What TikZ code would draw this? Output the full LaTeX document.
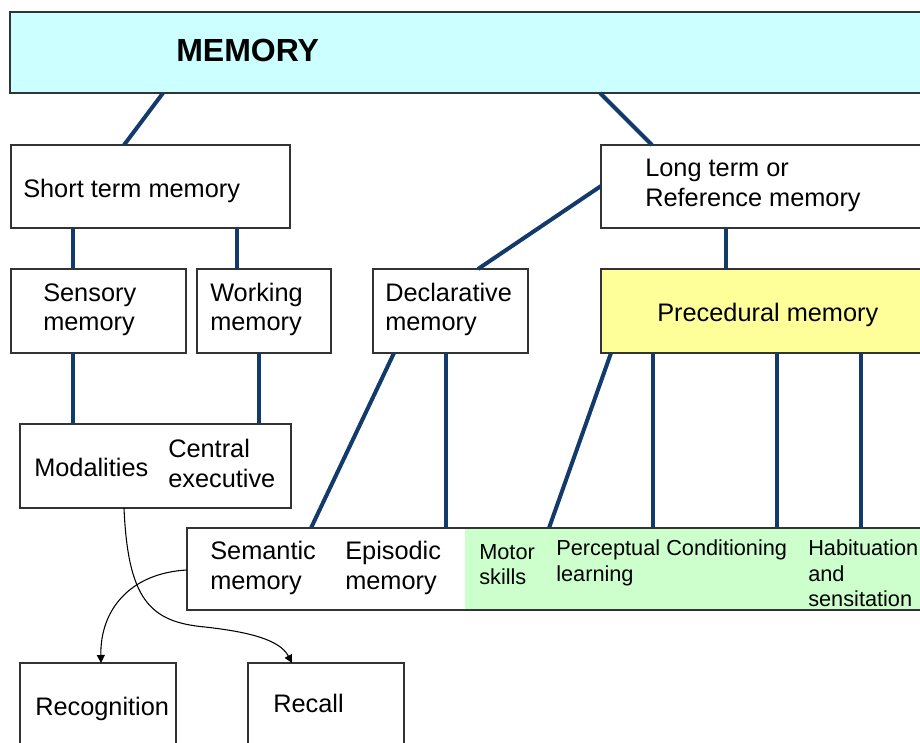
\documentclass[tikz,border=0pt]{standalone}
\usepackage{fontspec}
\setmainfont{Liberation Sans}
\usetikzlibrary{arrows.meta,calc}
\definecolor{navy}{HTML}{123A6A}
\definecolor{memfill}{HTML}{CCFFFF}
\definecolor{procfill}{HTML}{FFFF99}
\definecolor{greenfill}{HTML}{CCFFCC}
\begin{document}
\begin{tikzpicture}[x=0.75pt,y=-0.75pt,
  box/.style={draw=black!80, line width=1.1pt, inner sep=0pt, outer sep=0pt, anchor=north west, fill=white},
  sz/.style 2 args={minimum width=#1*0.75pt, minimum height=#2*0.75pt},
  link/.style={draw=navy, line width=3pt},
  lbl/.style={anchor=base west, inner sep=0pt, font=\fontsize{19}{22}\selectfont},
  glbl/.style={anchor=base west, inner sep=0pt, font=\fontsize{16.3}{19}\selectfont},
  flow/.style={draw=black, line width=0.8pt, -{Triangle[length=6pt,width=6pt]}}]
\clip (0,0) rectangle (920,742);
\fill[white] (0,0) rectangle (920,742);

% boxes
\node[box, sz={930}{81}, fill=memfill] (mem) at (10,12) {};
\node[box, sz={279}{83}] (stm) at (11,145) {};
\node[box, sz={330}{83}] (ltm) at (601,145) {};
\node[box, sz={175}{84}] (sens) at (11,269) {};
\node[box, sz={134}{84}] (work) at (197,269) {};
\node[box, sz={155}{84}] (decl) at (373,269) {};
\node[box, sz={330}{84}, fill=procfill] (proc) at (601,269) {};
\node[box, sz={271}{84}] (moda) at (20,424) {};
\node[box, sz={750}{82}, path picture={\fill[greenfill] ($(path picture bounding box.north west)+(278,0)$) rectangle (path picture bounding box.south east);}] (sem) at (187,528) {};
\node[box, sz={156}{100}] (recog) at (20,663) {};
\node[box, sz={156}{100}] (recall) at (248,663) {};

% texts
\node[anchor=base west, inner sep=0pt, font=\fontsize{24}{28}\selectfont\bfseries] (tmem) at (176,62) {MEMORY};
\node[lbl] (t1) at (23,197) {Short term memory};
\node[lbl] (t2a) at (645,176) {Long term or};
\node[lbl] (t2b) at (645,206) {Reference memory};
\node[lbl] (t3a) at (43,301) {Sensory};
\node[lbl] (t3b) at (43,330) {memory};
\node[lbl] (t4a) at (210,301) {Working};
\node[lbl] (t4b) at (210,330) {memory};
\node[lbl] (t5a) at (385,301) {Declarative};
\node[lbl] (t5b) at (385,330) {memory};
\node[lbl] (t6) at (657,321) {Precedural memory};
\node[lbl] (t7) at (34,476) {Modalities};
\node[lbl] (t8a) at (168,457) {Central};
\node[lbl] (t8b) at (168,487) {executive};
\node[lbl] (t9a) at (210,559) {Semantic};
\node[lbl] (t9b) at (210,589) {memory};
\node[lbl] (t10a) at (345,559) {Episodic};
\node[lbl] (t10b) at (345,589) {memory};
\node[glbl] (g1a) at (479,559) {Motor};
\node[glbl] (g1b) at (479,584) {skills};
\node[glbl] (g2a) at (556,555) {Perceptual};
\node[glbl] (g2b) at (556,581) {learning};
\node[glbl] (g3) at (666,555) {Conditioning};
\node[glbl] (g4a) at (808,555) {Habituation};
\node[glbl] (g4b) at (808,581) {and};
\node[glbl] (g4c) at (808,606) {sensitation};
\node[lbl] (t11) at (35,715) {Recognition};
\node[lbl] (t12) at (273,712) {Recall};

% connectors
\draw[link] ($(mem.south west)+(153,0)$) -- ($(stm.north west)+(113,0)$);
\draw[link] ($(mem.south west)+(590,0)$) -- ($(ltm.north west)+(51,0)$);
\draw[link] ($(stm.south west)+(62,0)$) -- ($(sens.north west)+(62,0)$);
\draw[link] ($(stm.south west)+(226,0)$) -- ($(work.north west)+(40,0)$);
\draw[link] ($(ltm.north west)+(0,41)$) -- ($(decl.north west)+(105,0)$);
\draw[link] ($(ltm.south west)+(125,0)$) -- ($(proc.north west)+(125,0)$);
\draw[link] ($(sens.south west)+(62,0)$) -- ($(moda.north west)+(53,0)$);
\draw[link] ($(work.south west)+(62,0)$) -- ($(moda.north west)+(239,0)$);
\draw[link] ($(decl.south west)+(21,0)$) -- ($(sem.north west)+(124,0)$);
\draw[link] ($(decl.south west)+(73,0)$) -- ($(sem.north west)+(259,0)$);
\draw[link] ($(proc.south west)+(10,0)$) -- ($(sem.north west)+(362,0)$);
\draw[link] ($(proc.south west)+(52,0)$) -- ($(sem.north west)+(466,0)$);
\draw[link] ($(proc.south west)+(176,0)$) -- ($(sem.north west)+(590,0)$);
\draw[link] ($(proc.south west)+(260,0)$) -- ($(sem.north west)+(674,0)$);

% flow arrows
\coordinate (bend) at (205,627);
\draw[flow] ($(moda.south west)+(104,0)$) .. controls (128,600) and (150,622) .. (bend) .. controls (250,632) and (280,640) .. ($(recall.north west)+(44,0)$);
\draw[flow] ($(sem.north west)+(0,42)$) .. controls (130,573) and (100,610) .. ($(recog.north west)+(81,0)$);
\end{tikzpicture}
\end{document}
